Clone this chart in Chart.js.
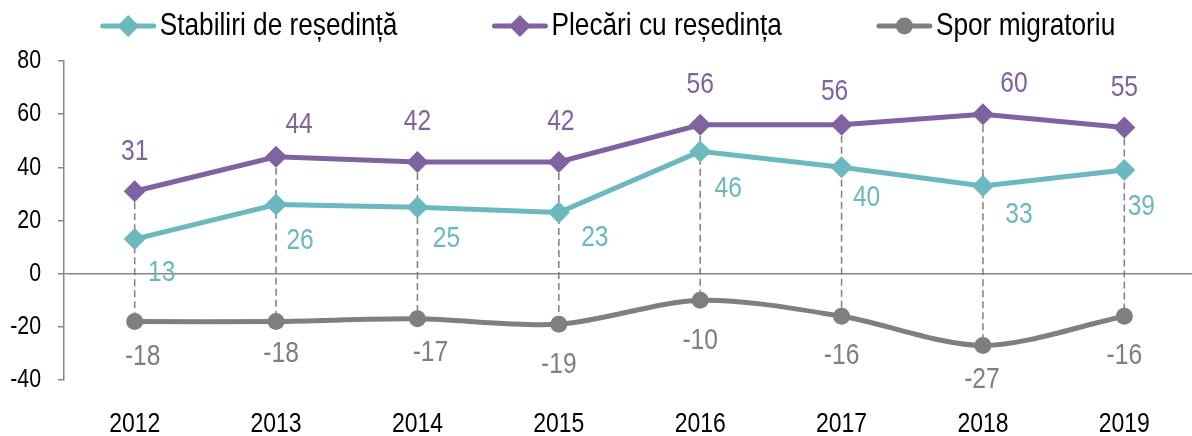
<!DOCTYPE html>
<html>
<head>
<meta charset="utf-8">
<script src="https://cdn.jsdelivr.net/npm/chart.js@4.4.1/dist/chart.umd.min.js"></script>
<style>
  html, body { margin: 0; padding: 0; background: #fff; overflow: hidden; }
  #wrap { width: 1206px; height: 436px; }
</style>
</head>
<body>
<div id="wrap"><canvas id="migration-chart" width="1206" height="436"></canvas></div>
<script>
const years = ["2012", "2013", "2014", "2015", "2016", "2017", "2018", "2019"];
const stabiliri = [13, 26, 25, 23, 46, 40, 33, 39];
const plecari = [31, 44, 42, 42, 56, 56, 60, 55];
const spor = [-18, -18, -17, -19, -10, -16, -27, -16];
const seriesNames = ["Stabiliri de reședință", "Plecări cu reședința", "Spor migratoriu"];

const FONT = "'Liberation Sans', Arial, sans-serif";
const NARROW = 0.82; // no narrow face installed, so squeeze the glyphs instead
const TEAL = "#6cb8bf";
const PURPLE = "#8062a0";
const GREY = "#7f7f7f";

// label offsets from the point (Excel labels were nudged by hand)
const labelNudge = [
  [[27, 34], [24, 36], [29, 32], [36, 25], [28, 37], [25, 30], [36, 29], [17, 37]],
  [[0, -40], [23, -32], [0, -40], [2, -40], [0, -40], [-7, -33], [31, -30], [0, -40]],
  [[8, 35], [5, 32], [13, 34], [0, 41], [0, 40], [0, 40], [-1, 34], [0, 40]],
];

const highLowLines = {
  id: "highLowLines",
  beforeDatasetsDraw(chart) {
    const ctx = chart.ctx;
    const metas = chart.data.datasets.map((d, i) => chart.getDatasetMeta(i));
    ctx.save();
    ctx.strokeStyle = GREY;
    ctx.lineWidth = 1.5;
    ctx.setLineDash([7, 4]);
    years.forEach((y, j) => {
      const ys = metas.map((m) => m.data[j].y);
      const x = metas[0].data[j].x;
      ctx.beginPath();
      ctx.moveTo(x, Math.min(...ys));
      ctx.lineTo(x, Math.max(...ys));
      ctx.stroke();
    });
    ctx.restore();
  },
};

const valueLabels = {
  id: "valueLabels",
  afterDatasetsDraw(chart) {
    const ctx = chart.ctx;
    ctx.save();
    ctx.font = "30px " + FONT;
    ctx.textAlign = "center";
    ctx.textBaseline = "middle";
    chart.data.datasets.forEach((ds, i) => {
      ctx.fillStyle = ds.borderColor;
      chart.getDatasetMeta(i).data.forEach((pt, j) => {
        const [dx, dy] = labelNudge[i][j];
        ctx.fillText(String(ds.data[j]), pt.x + dx, pt.y + dy);
      });
    });
    ctx.restore();
  },
};

function drawMarker(ctx, style, x, y, r) {
  ctx.beginPath();
  if (style === "circle") {
    ctx.arc(x, y, r, 0, Math.PI * 2);
  } else {
    ctx.moveTo(x, y - r);
    ctx.lineTo(x + r, y);
    ctx.lineTo(x, y + r);
    ctx.lineTo(x - r, y);
    ctx.closePath();
  }
  ctx.fill();
}

const lineLegend = {
  id: "lineLegend",
  afterDraw(chart) {
    const ctx = chart.ctx;
    const lineLen = 55, textGap = 4, itemGap = 95, cy = 26, cx = 608;
    ctx.save();
    ctx.font = "32px " + FONT;
    ctx.textBaseline = "middle";
    ctx.textAlign = "left";
    const items = chart.data.datasets.map((ds) => ({ ds, w: ctx.measureText(ds.label).width * NARROW }));
    const total = items.reduce((s, it) => s + lineLen + textGap + it.w, 0) + itemGap * (items.length - 1);
    let x = cx - total / 2;
    items.forEach(({ ds, w }) => {
      ctx.strokeStyle = ds.borderColor;
      ctx.fillStyle = ds.borderColor;
      ctx.lineWidth = 5;
      ctx.lineCap = "round";
      ctx.beginPath();
      ctx.moveTo(x + 2, cy);
      ctx.lineTo(x + lineLen - 2, cy);
      ctx.stroke();
      drawMarker(ctx, ds.pointStyle, x + lineLen / 2, cy, ds.pointRadius);
      ctx.fillStyle = "#000";
      ctx.fillText(ds.label, x + lineLen + textGap, cy);
      x += lineLen + textGap + w + itemGap;
    });
    ctx.restore();
  },
};

const ctx = document.getElementById("migration-chart").getContext("2d");
const rawFillText = ctx.fillText;
ctx.fillText = function (text, x, y) {
  this.save();
  this.translate(x, y);
  this.scale(NARROW, 1);
  rawFillText.call(this, text, 0, 0);
  this.restore();
};

new Chart(ctx, {
  type: "line",
  data: {
    labels: years,
    datasets: [
      {
        label: seriesNames[0],
        data: stabiliri,
        borderColor: TEAL,
        backgroundColor: TEAL,
        borderWidth: 5,
        pointStyle: "rectRot",
        pointRadius: 11,
        pointBorderWidth: 0,
        tension: 0,
      },
      {
        label: seriesNames[1],
        data: plecari,
        borderColor: PURPLE,
        backgroundColor: PURPLE,
        borderWidth: 5,
        pointStyle: "rectRot",
        pointRadius: 11,
        pointBorderWidth: 0,
        tension: 0,
      },
      {
        label: seriesNames[2],
        data: spor,
        borderColor: GREY,
        backgroundColor: GREY,
        borderWidth: 5,
        pointStyle: "circle",
        pointRadius: 8.5,
        pointBorderWidth: 0,
        tension: 0.3,
      },
    ],
  },
  options: {
    responsive: false,
    animation: false,
    devicePixelRatio: 1,
    layout: { padding: { top: 61, right: 3, left: 0, bottom: 0 } },
    plugins: {
      legend: { display: false },
      tooltip: { enabled: false },
    },
    scales: {
      x: {
        offset: true,
        grid: { display: false },
        border: { display: false },
        ticks: { color: "#000", font: { family: FONT, size: 28 }, padding: 19, maxRotation: 0, autoSkip: false },
        afterFit: (s) => { s.height = 56; },
      },
      y: {
        min: -40,
        max: 80,
        ticks: { stepSize: 20, color: "#000", font: { family: FONT, size: 26 }, padding: 17 },
        grid: {
          color: (c) => (c.tick && c.tick.value === 0 ? "#868686" : "rgba(0,0,0,0)"),
          tickColor: "#868686",
          tickLength: 6,
          lineWidth: 1.5,
        },
        border: { color: "#868686", width: 1.5 },
        afterFit: (s) => { s.width = 64; },
      },
    },
  },
  plugins: [highLowLines, valueLabels, lineLegend],
});
</script>
</body>
</html>
